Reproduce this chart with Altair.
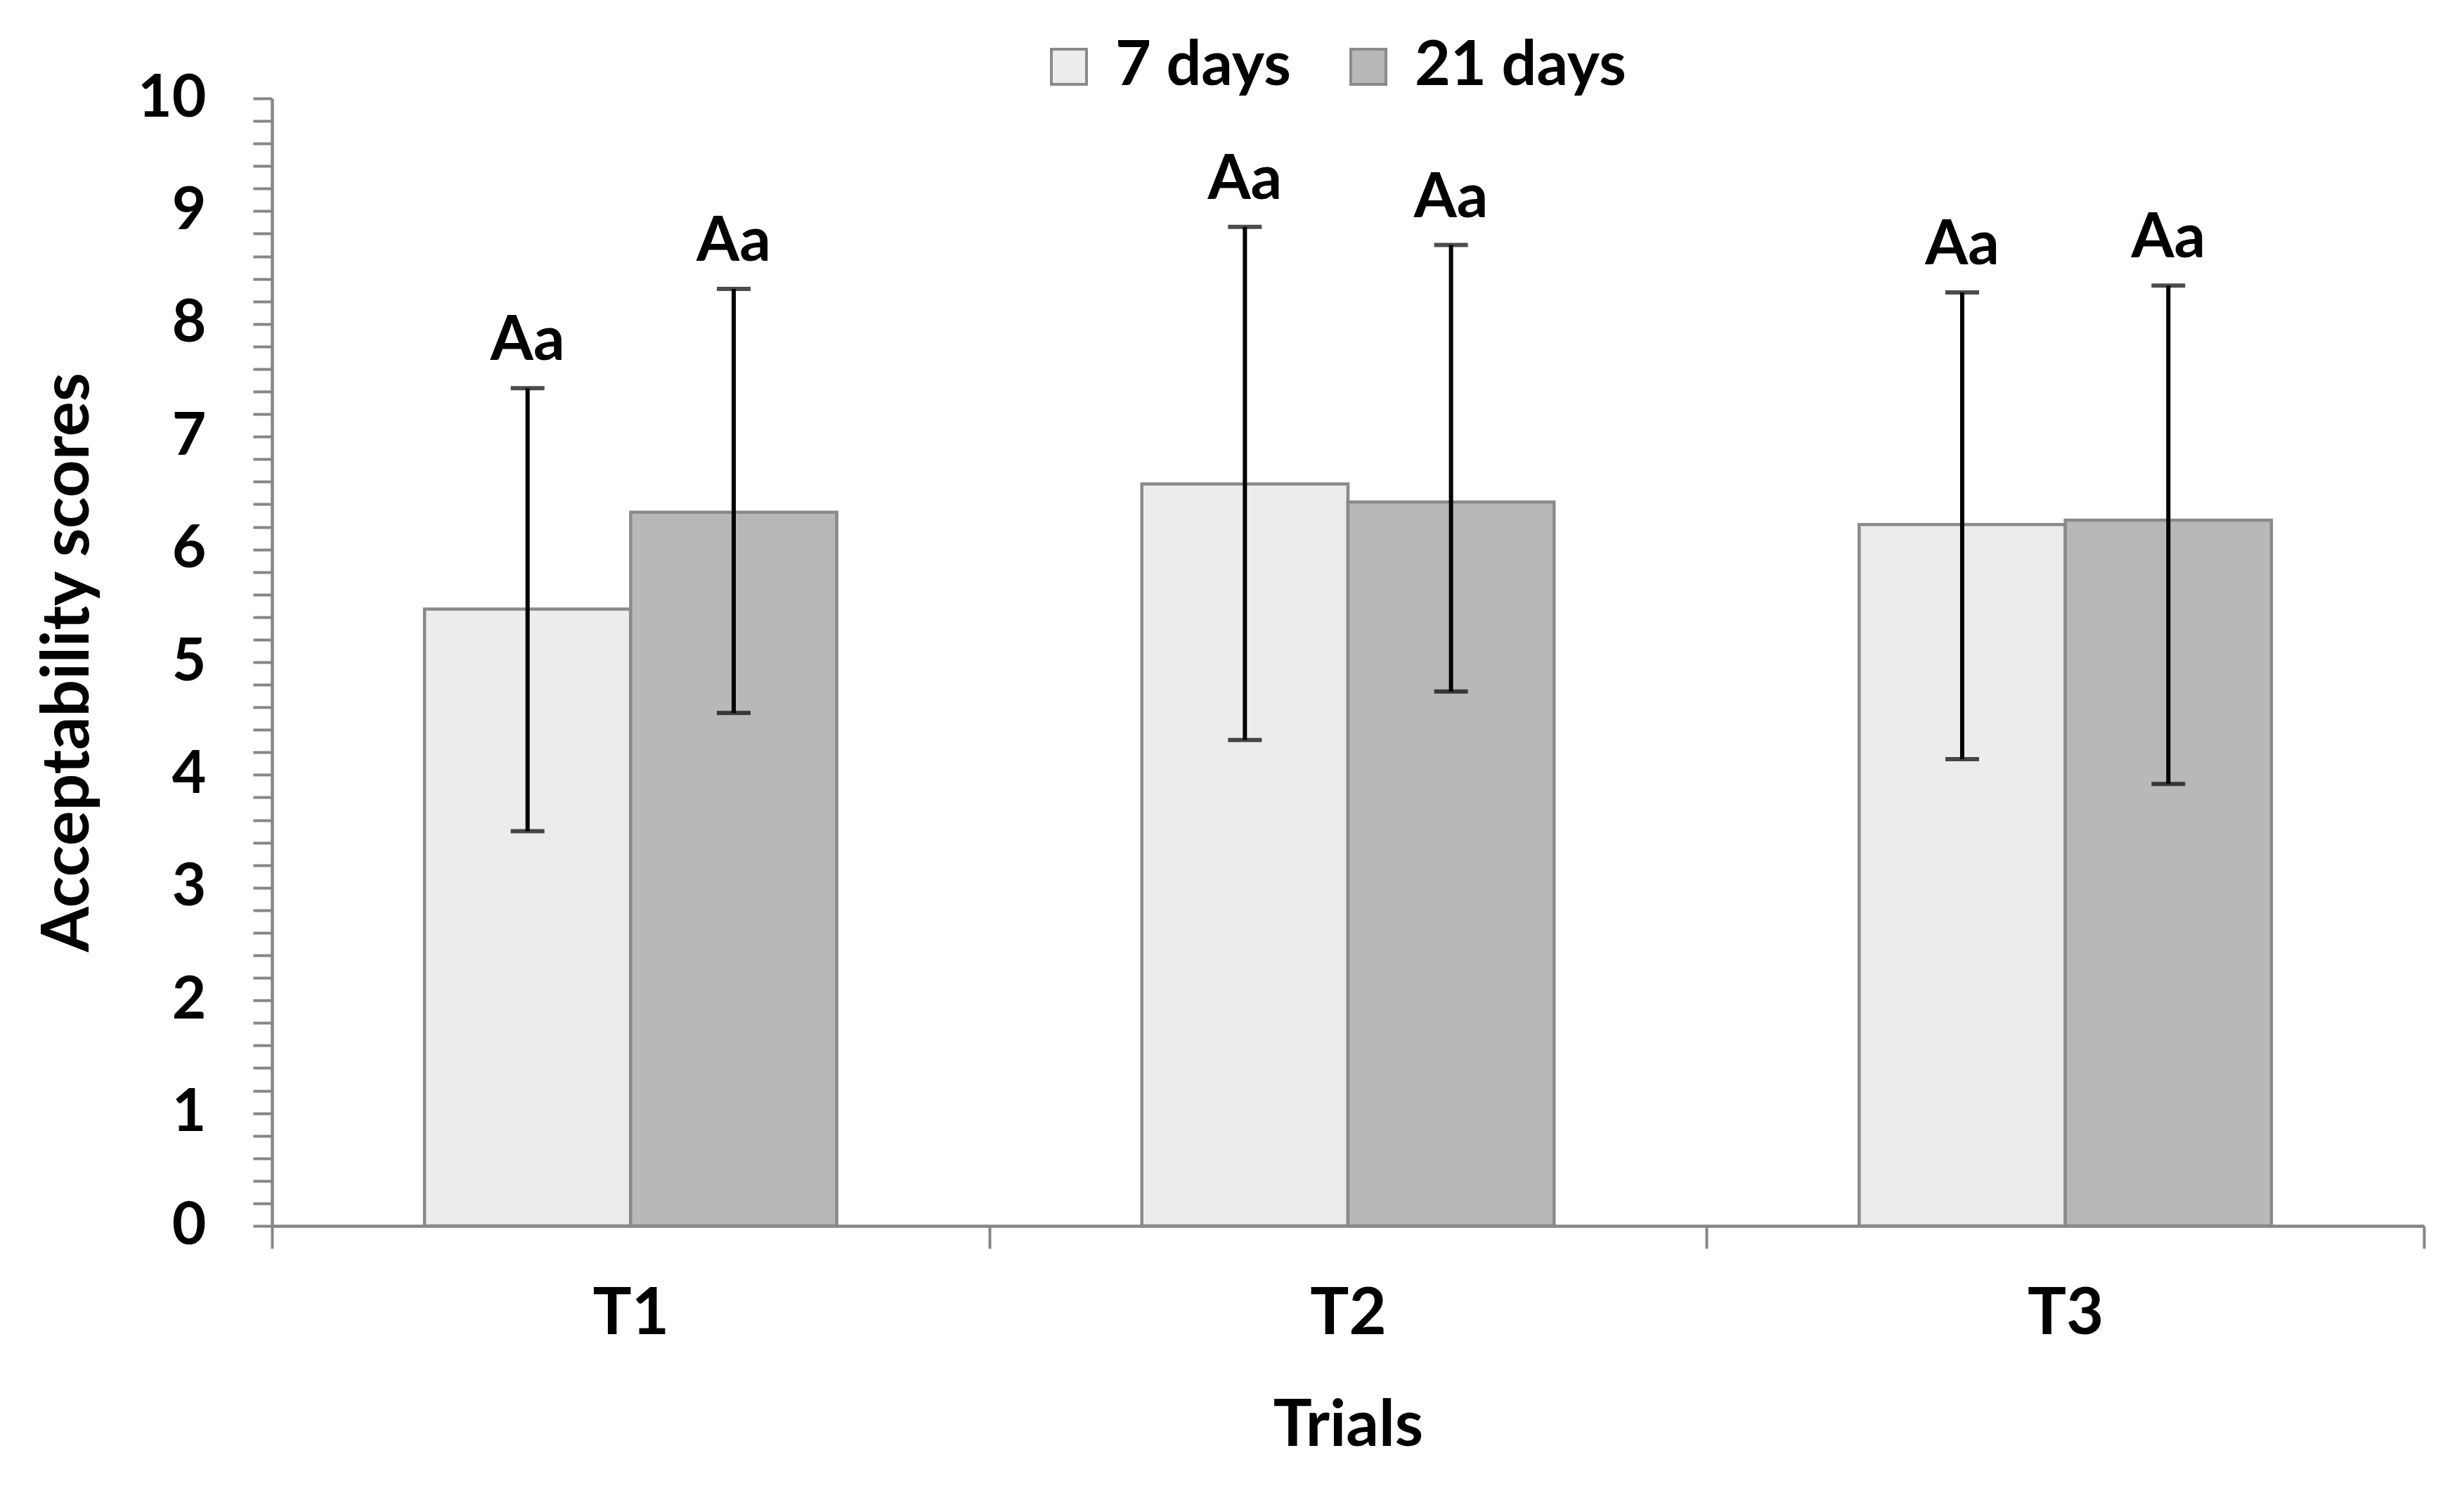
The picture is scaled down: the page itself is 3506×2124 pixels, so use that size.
import altair as alt
import pandas as pd

trials = ["T1", "T2", "T3"]
series = ["7 days", "21 days"]
mean_7 = [5.47, 6.58, 6.22]
mean_21 = [6.33, 6.42, 6.26]
low_7 = [3.50, 4.31, 4.14]
high_7 = [7.43, 8.86, 8.28]
low_21 = [4.55, 4.74, 3.92]
high_21 = [8.31, 8.70, 8.34]
letters_7 = ["Aa", "Aa", "Aa"]
letters_21 = ["Aa", "Aa", "Aa"]
y_tick_values = [round(i * 0.2, 1) for i in range(51)]

rows = []
for i, t in enumerate(trials):
    rows.append(dict(trial=t, series=series[0], mean=mean_7[i], low=low_7[i],
                     high=high_7[i], letter=letters_7[i]))
    rows.append(dict(trial=t, series=series[1], mean=mean_21[i], low=low_21[i],
                     high=high_21[i], letter=letters_21[i]))
df = pd.DataFrame(rows)

FONT = "Lato"
AXIS_GRAY = "#868686"
W, H = 3062, 1604

x_enc = alt.X(
    "trial:N", sort=trials, title="Trials",
    scale=alt.Scale(paddingInner=0, paddingOuter=0),
    axis=alt.Axis(
        labelFont=FONT, labelFontSize=92, labelFontWeight="bold", labelColor="black",
        labelAngle=0, labelPadding=48, tickSize=32, tickBand="extent",
        tickColor=AXIS_GRAY, tickWidth=4, domainColor=AXIS_GRAY, domainWidth=4.5,
        grid=False, titleFont=FONT, titleFontSize=92, titleFontWeight="bold",
        titleColor="black", titleX=W / 2, titleY=284, titleBaseline="middle",
    ),
)
xo_enc = alt.XOffset("series:N", sort=series,
                     scale=alt.Scale(paddingInner=0, paddingOuter=0.74))

y_axis = alt.Axis(
    values=y_tick_values,
    labelExpr="abs(datum.value - round(datum.value)) < 0.001 ? format(datum.value, 'd') : ''",
    labelFont=FONT, labelFontSize=84, labelFontWeight="bold", labelColor="black",
    labelPadding=67, labelOverlap=False, tickSize=27, tickColor=AXIS_GRAY, tickWidth=4,
    domainColor=AXIS_GRAY, domainWidth=4.5, grid=False,
    titleFont=FONT, titleFontSize=93, titleFontWeight="bold", titleColor="black",
    titleX=-290, titleY=H / 2, titleBaseline="middle",
)
y_scale = alt.Scale(domain=[0, 10], nice=False, zero=True)


def y_enc(field):
    return alt.Y(field, type="quantitative", scale=y_scale, axis=y_axis,
                 title="Acceptability scores")


bars = alt.Chart(df).mark_bar(stroke="#8a8a8a", strokeWidth=4.5).encode(
    x=x_enc, xOffset=xo_enc, y=y_enc("mean"),
    color=alt.Color(
        "series:N", sort=series,
        scale=alt.Scale(domain=series, range=["#ececec", "#b8b8b8"]),
        legend=alt.Legend(
            orient="none", legendX=1090, legendY=-89, direction="horizontal",
            title=None, labelFont=FONT, labelFontSize=88, labelFontWeight="bold",
            labelColor="black", labelLimit=1000, symbolType="square", symbolSize=2500,
            symbolStrokeColor="#8a8a8a", symbolStrokeWidth=4, labelOffset=22,
            columnPadding=66, padding=0,
        ),
    ),
)

rules = alt.Chart(df).mark_rule(color="black", strokeWidth=6).encode(
    x=x_enc, xOffset=xo_enc, y=y_enc("low"), y2="high:Q"
)
caps_low = alt.Chart(df).mark_tick(color="black", thickness=6, size=48).encode(
    x=x_enc, xOffset=xo_enc, y=y_enc("low")
)
caps_high = alt.Chart(df).mark_tick(color="black", thickness=6, size=48).encode(
    x=x_enc, xOffset=xo_enc, y=y_enc("high")
)
labels = alt.Chart(df).mark_text(
    font=FONT, fontWeight="bold", fontSize=88, baseline="alphabetic", dy=-40, color="black"
).encode(x=x_enc, xOffset=xo_enc, y=y_enc("high"), text="letter:N")

chart = alt.layer(bars, rules, caps_low, caps_high, labels).properties(
    width=W, height=H,
    padding={"left": 379, "top": 132, "right": 25, "bottom": 350},
    autosize=alt.AutoSizeParams(type="none"),
    background="white",
).configure_view(stroke=None)

chart.save("out.html", embed_options={"renderer": "svg", "actions": False})
